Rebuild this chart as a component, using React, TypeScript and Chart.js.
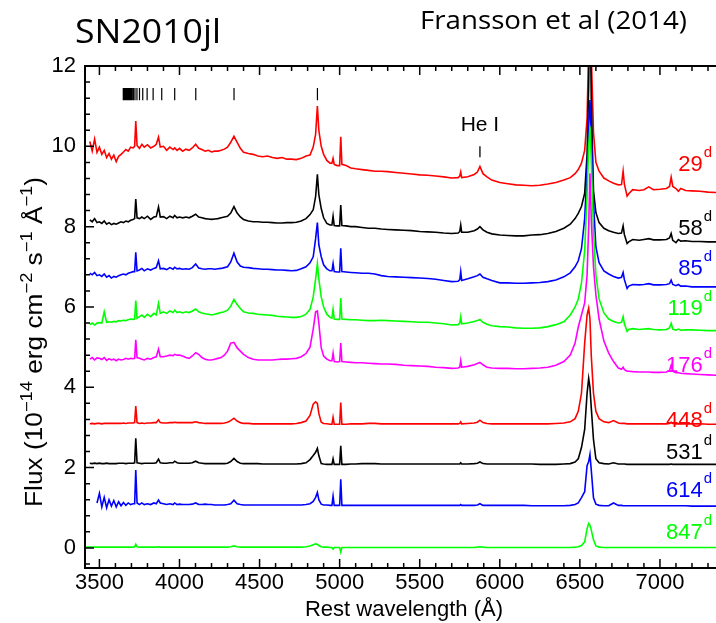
import React, { useEffect, useRef } from 'react';
import { Chart, registerables } from 'chart.js';

Chart.register(...registerables);

// ---------- data ----------
const WAVE = [
  3410, 3440, 3455, 3470, 3485, 3500, 3515, 3530, 3545, 3560,
  3575, 3590, 3605, 3620, 3635, 3650, 3665, 3680, 3695, 3710,
  3720, 3727, 3735, 3750, 3765, 3780, 3800, 3820, 3840, 3855,
  3869, 3880, 3900, 3920, 3940, 3960, 3970, 3985, 4000, 4020,
  4040, 4060, 4080, 4101, 4120, 4140, 4160, 4180, 4200, 4220,
  4240, 4260, 4280, 4300, 4320, 4340, 4360, 4380, 4400, 4430,
  4460, 4490, 4520, 4550, 4580, 4610, 4640, 4670, 4700, 4730,
  4760, 4790, 4815, 4835, 4850, 4861, 4870, 4885, 4900, 4920,
  4940, 4952, 4959, 4966, 4985, 5000, 5007, 5014, 5040, 5070,
  5100, 5140, 5180, 5220, 5260, 5300, 5350, 5400, 5450, 5500,
  5550, 5600, 5650, 5700, 5740, 5750, 5756, 5762, 5800, 5840,
  5860, 5876, 5895, 5920, 5950, 6000, 6050, 6100, 6150, 6200,
  6250, 6300, 6350, 6400, 6440, 6470, 6490, 6510, 6530, 6545,
  6555, 6563, 6571, 6585, 6600, 6620, 6650, 6680, 6710, 6740,
  6760, 6770, 6778, 6795, 6805, 6830, 6870, 6900, 6930, 6960,
  7000, 7040, 7060, 7070, 7080, 7100, 7115, 7130, 7160, 7200,
  7250, 7300, 7350,
];

const FLUX_29 = [
  null, 10.12, 9.88, 10.18, 9.85, 9.98, 9.80, 9.90, 9.72, 9.82,
  9.68, 9.78, 9.62, 9.75, 9.80, 9.86, 9.92, 9.88, 9.98, 9.96,
  10.0, 10.63, 10.02, 9.95, 10.05, 9.98, 10.04, 9.96, 10.0, 10.05,
  10.23, 9.98, 10.0, 9.9, 9.98, 9.92, 9.96, 9.9, 9.95, 9.88,
  9.93, 9.90, 9.96, 10.05, 9.95, 9.92, 9.88, 9.90, 9.86, 9.88,
  9.88, 9.90, 9.93, 9.98, 10.1, 10.25, 10.1, 9.95, 9.85, 9.82,
  9.80, 9.76, 9.74, 9.76, 9.72, 9.70, 9.72, 9.68, 9.68, 9.67,
  9.70, 9.76, 9.78, 9.98, 10.3, 11.0, 10.4, 10.0, 9.8, 9.65,
  9.58, 9.58, 9.70, 9.55, 9.52, 9.52, 10.24, 9.55, 9.52, 9.46,
  9.44, 9.42, 9.40, 9.38, 9.38, 9.37, 9.35, 9.33, 9.31, 9.29,
  9.28, 9.26, 9.24, 9.21, 9.22, 9.26, 9.36, 9.22, 9.24, 9.30,
  9.36, 9.50, 9.32, 9.24, 9.16, 9.10, 9.07, 9.04, 9.03, 9.02,
  9.03, 9.06, 9.10, 9.16, 9.22, 9.32, 9.42, 9.58, 9.90, 10.7,
  12.5, 14.5, 12.3, 10.35, 9.6, 9.38, 9.21, 9.14, 9.08, 9.04,
  9.05, 9.38, 9.05, 8.76, 8.82, 8.92, 8.90, 8.92, 8.99, 8.92,
  8.93, 8.95, 9.0, 9.23, 9.0, 8.95, 8.88, 8.95, 8.90, 8.89,
  8.88, 8.86, 8.85,
];

const FLUX_58 = [
  null, 8.17, 8.12, 8.20, 8.10, 8.12, 8.08, 8.14, 8.06, 8.10,
  8.05, 8.08, 8.06, 8.09, 8.12, 8.10, 8.14, 8.12, 8.16, 8.18,
  8.2, 8.69, 8.22, 8.2, 8.24, 8.2, 8.26, 8.18, 8.24, 8.25,
  8.49, 8.24, 8.25, 8.2, 8.26, 8.22, 8.28, 8.22, 8.24, 8.22,
  8.24, 8.22, 8.26, 8.31, 8.24, 8.22, 8.2, 8.19, 8.18, 8.19,
  8.2, 8.22, 8.24, 8.26, 8.34, 8.5, 8.34, 8.24, 8.18, 8.14,
  8.12, 8.12, 8.11, 8.11, 8.1, 8.09, 8.09, 8.1, 8.1, 8.11,
  8.14, 8.2, 8.3, 8.42, 8.75, 9.3, 8.8, 8.45, 8.22, 8.08,
  8.04, 8.04, 8.26, 8.03, 8.02, 8.02, 8.54, 8.03, 8.02, 8.0,
  8.0, 7.98, 7.96, 7.96, 7.94, 7.93, 7.92, 7.91, 7.9, 7.88,
  7.87, 7.86, 7.84, 7.83, 7.84, 7.88, 8.04, 7.86, 7.86, 7.9,
  7.94, 8.0, 7.92, 7.86, 7.82, 7.79, 7.78, 7.77, 7.77, 7.79,
  7.8, 7.83, 7.88, 7.96, 8.06, 8.2, 8.33, 8.5, 8.83, 9.8,
  11.5, 14.0, 11.2, 8.9, 8.35, 8.1, 7.96, 7.9, 7.86, 7.83,
  7.84, 8.02, 7.8, 7.58, 7.62, 7.68, 7.66, 7.68, 7.7, 7.67,
  7.67, 7.68, 7.72, 7.83, 7.66, 7.6, 7.68, 7.64, 7.65, 7.63,
  7.63, 7.62, 7.62,
];

const FLUX_85 = [
  null, 6.84, 6.80, 6.86, 6.78, 6.80, 6.76, 6.82, 6.74, 6.78,
  6.72, 6.76, 6.74, 6.78, 6.80, 6.82, 6.80, 6.84, 6.86, 6.88,
  6.88, 7.36, 6.90, 6.92, 6.96, 6.90, 6.95, 6.92, 6.96, 6.98,
  7.15, 6.95, 6.96, 6.93, 6.98, 6.94, 6.99, 6.95, 6.96, 6.94,
  6.95, 6.94, 6.98, 7.07, 6.97, 6.95, 6.94, 6.95, 6.95, 6.94,
  6.95, 6.96, 6.98, 7.0, 7.12, 7.34, 7.12, 7.02, 6.99, 6.98,
  6.96, 6.95, 6.94, 6.94, 6.93, 6.92, 6.92, 6.91, 6.9, 6.91,
  6.95, 7.0, 7.1, 7.25, 7.7, 8.1, 7.55, 7.25, 7.05, 6.95,
  6.9, 6.9, 7.08, 6.88, 6.87, 6.87, 7.46, 6.88, 6.87, 6.86,
  6.85, 6.84, 6.84, 6.82, 6.78, 6.76, 6.75, 6.74, 6.73, 6.72,
  6.71, 6.69, 6.66, 6.63, 6.64, 6.68, 6.88, 6.66, 6.7, 6.75,
  6.78, 6.82, 6.74, 6.7, 6.66, 6.6, 6.6, 6.59, 6.59, 6.6,
  6.61, 6.63, 6.67, 6.75, 6.85, 7.0, 7.15, 7.45, 8.2, 9.4,
  10.5, 11.15, 10.3, 8.6, 7.5, 7.1, 6.9, 6.82, 6.76, 6.72,
  6.74, 6.86, 6.68, 6.46, 6.52, 6.56, 6.55, 6.56, 6.58, 6.55,
  6.55, 6.56, 6.58, 6.67, 6.56, 6.53, 6.56, 6.52, 6.52, 6.5,
  6.5, 6.5, 6.5,
];

const FLUX_119 = [
  null, 5.56, 5.6, 5.55, 5.6, 5.61, 5.6, 5.88, 5.62, 5.63,
  5.62, 5.64, 5.63, 5.66, 5.65, 5.67, 5.66, 5.68, 5.7, 5.69,
  5.7, 6.16, 5.72, 5.76, 5.8, 5.74, 5.82, 5.76, 5.84, 5.8,
  6.09, 5.84, 5.88, 5.84, 5.9, 5.86, 5.92, 5.86, 5.88, 5.85,
  5.88, 5.86, 5.9, 5.95, 5.88, 5.85, 5.83, 5.82, 5.8, 5.82,
  5.84, 5.86, 5.88, 5.92, 6.02, 6.19, 6.06, 5.96, 5.88, 5.85,
  5.84, 5.82, 5.81, 5.8, 5.79, 5.77, 5.76, 5.75, 5.74, 5.74,
  5.76, 5.82, 5.94, 6.25, 6.7, 7.08, 6.7, 6.25, 6.0, 5.82,
  5.74, 5.72, 5.94, 5.7, 5.69, 5.69, 6.22, 5.7, 5.69, 5.68,
  5.68, 5.67, 5.66, 5.66, 5.67, 5.66, 5.65, 5.64, 5.63, 5.62,
  5.62, 5.6, 5.58, 5.55, 5.56, 5.6, 5.76, 5.58, 5.6, 5.64,
  5.66, 5.69, 5.62, 5.57, 5.53, 5.51, 5.5, 5.48, 5.47, 5.47,
  5.48, 5.51, 5.56, 5.63, 5.8, 6.0, 6.2, 6.6, 7.4, 8.8,
  10.0, 10.49, 9.7, 7.9, 6.8, 6.2, 5.85, 5.7, 5.64, 5.6,
  5.62, 5.76, 5.58, 5.39, 5.44, 5.46, 5.44, 5.45, 5.46, 5.44,
  5.43, 5.44, 5.48, 5.59, 5.45, 5.42, 5.45, 5.42, 5.43, 5.43,
  5.42, 5.41, 5.41,
];

const FLUX_176 = [
  null, 4.70, 4.74, 4.68, 4.73, 4.72, 4.69, 4.74, 4.67, 4.71,
  4.68, 4.7, 4.66, 4.7, 4.68, 4.69, 4.72, 4.7, 4.72, 4.71,
  4.72, 5.18, 4.74, 4.72, 4.7, 4.68, 4.72, 4.7, 4.74, 4.76,
  4.95, 4.76, 4.76, 4.78, 4.8, 4.79, 4.82, 4.8, 4.8, 4.78,
  4.74, 4.72, 4.78, 4.86, 4.82, 4.74, 4.7, 4.68, 4.68, 4.7,
  4.72, 4.74, 4.8, 4.9, 5.1, 5.12, 4.98, 4.9, 4.82, 4.74,
  4.7, 4.68, 4.68, 4.68, 4.68, 4.69, 4.7, 4.7, 4.71, 4.72,
  4.76, 4.84, 5.0, 5.45, 5.88, 5.9, 5.6, 4.98, 4.78, 4.7,
  4.66, 4.66, 4.85, 4.64, 4.63, 4.64, 5.1, 4.64, 4.63, 4.62,
  4.61, 4.61, 4.6, 4.59, 4.58, 4.58, 4.57, 4.55, 4.54, 4.53,
  4.52, 4.5, 4.49, 4.47, 4.48, 4.5, 4.66, 4.5, 4.52, 4.56,
  4.59, 4.62, 4.56, 4.5, 4.48, 4.47, 4.47, 4.46, 4.46, 4.47,
  4.48, 4.5, 4.55, 4.64, 4.8, 5.1, 5.5, 5.8, 6.1, 6.8,
  8.0, 9.33, 8.2, 7.0, 6.3, 5.7, 5.15, 4.85, 4.64, 4.48,
  4.45, 4.5, 4.44, 4.4, 4.4, 4.39, 4.38, 4.38, 4.38, 4.37,
  4.37, 4.38, 4.42, 4.55, 4.4, 4.36, 4.36, 4.35, 4.34, 4.33,
  4.32, 4.31, 4.3,
];

const FLUX_448 = [
  null, 3.09, 3.1, 3.09, 3.1, 3.1, 3.09, 3.1, 3.1, 3.1,
  3.1, 3.1, 3.1, 3.1, 3.1, 3.11, 3.1, 3.11, 3.11, 3.11,
  3.12, 3.53, 3.12, 3.1, 3.11, 3.1, 3.11, 3.11, 3.12, 3.12,
  3.19, 3.12, 3.11, 3.11, 3.12, 3.12, 3.13, 3.12, 3.12, 3.12,
  3.12, 3.12, 3.12, 3.14, 3.12, 3.11, 3.1, 3.1, 3.1, 3.1,
  3.1, 3.1, 3.11, 3.13, 3.17, 3.23, 3.16, 3.12, 3.1, 3.1,
  3.09, 3.09, 3.09, 3.09, 3.09, 3.09, 3.09, 3.09, 3.09, 3.1,
  3.12, 3.16, 3.3, 3.58, 3.64, 3.6, 3.35, 3.13, 3.1, 3.09,
  3.08, 3.08, 3.25, 3.08, 3.08, 3.08, 3.62, 3.08, 3.08, 3.09,
  3.09, 3.09, 3.1, 3.1, 3.09, 3.09, 3.09, 3.09, 3.09, 3.09,
  3.09, 3.09, 3.09, 3.09, 3.09, 3.1, 3.14, 3.09, 3.1, 3.11,
  3.13, 3.18, 3.12, 3.1, 3.09, 3.09, 3.09, 3.09, 3.09, 3.09,
  3.09, 3.09, 3.1, 3.11, 3.14, 3.22, 3.4, 3.85, 5.1, 5.8,
  5.97, 5.7, 4.8, 3.85, 3.4, 3.22, 3.14, 3.12, 3.17, 3.11,
  3.1, 3.1, 3.1, 3.09, 3.09, 3.09, 3.09, 3.09, 3.09, 3.09,
  3.09, 3.09, 3.1, 3.13, 3.1, 3.09, 3.09, 3.09, 3.09, 3.09,
  3.09, 3.08, 3.08,
];

const FLUX_531 = [
  null, 2.11, 2.1, 2.11, 2.1, 2.11, 2.1, 2.1, 2.11, 2.1,
  2.1, 2.1, 2.1, 2.11, 2.11, 2.11, 2.1, 2.11, 2.11, 2.11,
  2.12, 2.73, 2.12, 2.11, 2.1, 2.11, 2.11, 2.11, 2.11, 2.12,
  2.21, 2.12, 2.11, 2.11, 2.12, 2.12, 2.16, 2.12, 2.11, 2.11,
  2.11, 2.11, 2.12, 2.16, 2.12, 2.11, 2.1, 2.1, 2.1, 2.1,
  2.1, 2.1, 2.1, 2.11, 2.15, 2.23, 2.15, 2.11, 2.1, 2.1,
  2.1, 2.1, 2.09, 2.09, 2.09, 2.09, 2.09, 2.09, 2.09, 2.09,
  2.1, 2.12, 2.2, 2.3, 2.38, 2.48, 2.3, 2.1, 2.09, 2.08,
  2.08, 2.08, 2.22, 2.08, 2.08, 2.08, 2.54, 2.08, 2.08, 2.09,
  2.09, 2.1, 2.1, 2.1, 2.09, 2.09, 2.09, 2.09, 2.09, 2.09,
  2.09, 2.09, 2.09, 2.09, 2.09, 2.09, 2.12, 2.09, 2.09, 2.1,
  2.11, 2.14, 2.1, 2.09, 2.09, 2.09, 2.09, 2.09, 2.09, 2.09,
  2.08, 2.08, 2.08, 2.09, 2.1, 2.14, 2.22, 2.5, 2.95, 3.85,
  4.22, 4.0, 3.5, 2.7, 2.22, 2.12, 2.1, 2.09, 2.12, 2.09,
  2.09, 2.09, 2.09, 2.08, 2.08, 2.08, 2.08, 2.08, 2.08, 2.08,
  2.08, 2.08, 2.08, 2.09, 2.08, 2.08, 2.08, 2.08, 2.08, 2.08,
  2.08, 2.08, 2.08,
];

const FLUX_614 = [
  null, null, null, null, 1.12, 1.36, 1.02, 1.26, 1.0, 1.2,
  1.04, 1.18, 1.02, 1.15, 1.05, 1.13, 1.06, 1.12, 1.08, 1.1,
  1.1, 1.94, 1.12, 1.08, 1.12, 1.08, 1.1, 1.08, 1.12, 1.1,
  1.19, 1.12, 1.1, 1.08, 1.1, 1.08, 1.12, 1.08, 1.09, 1.08,
  1.08, 1.08, 1.09, 1.12, 1.08, 1.08, 1.09, 1.08, 1.08, 1.07,
  1.07, 1.07, 1.07, 1.08, 1.1, 1.19, 1.1, 1.08, 1.07, 1.07,
  1.07, 1.07, 1.07, 1.07, 1.07, 1.07, 1.07, 1.07, 1.07, 1.07,
  1.07, 1.08, 1.1, 1.16, 1.26, 1.38, 1.2, 1.09, 1.07, 1.07,
  1.06, 1.06, 1.29, 1.06, 1.06, 1.06, 1.71, 1.06, 1.06, 1.06,
  1.06, 1.06, 1.06, 1.06, 1.06, 1.06, 1.06, 1.06, 1.06, 1.06,
  1.06, 1.06, 1.06, 1.06, 1.06, 1.06, 1.08, 1.06, 1.06, 1.06,
  1.07, 1.1, 1.06, 1.06, 1.06, 1.06, 1.06, 1.06, 1.06, 1.05,
  1.05, 1.05, 1.05, 1.05, 1.06, 1.08, 1.12, 1.25, 1.4, 2.05,
  2.15, 2.33, 1.95, 1.25, 1.09, 1.06, 1.05, 1.05, 1.12, 1.06,
  1.06, 1.05, 1.05, 1.05, 1.05, 1.05, 1.05, 1.05, 1.05, 1.05,
  1.05, 1.05, 1.05, 1.05, 1.05, 1.05, 1.05, 1.05, 1.05, 1.04,
  1.04, 1.04, 1.04,
];

const FLUX_847 = [
  0.02, 0.02, 0.02, 0.02, 0.02, 0.02, 0.02, 0.02, 0.02, 0.02,
  0.02, 0.02, 0.02, 0.02, 0.02, 0.02, 0.02, 0.02, 0.02, 0.02,
  0.03, 0.09, 0.03, 0.02, 0.02, 0.02, 0.02, 0.02, 0.02, 0.02,
  0.03, 0.02, 0.02, 0.02, 0.02, 0.02, 0.02, 0.02, 0.02, 0.02,
  0.02, 0.02, 0.02, 0.02, 0.02, 0.02, 0.02, 0.02, 0.02, 0.02,
  0.02, 0.02, 0.02, 0.02, 0.03, 0.05, 0.03, 0.02, 0.02, 0.02,
  0.02, 0.02, 0.02, 0.02, 0.02, 0.02, 0.02, 0.02, 0.02, 0.02,
  0.02, 0.03, 0.05, 0.08, 0.1, 0.09, 0.06, 0.03, 0.02, 0.02,
  0.01, 0.01, -0.03, 0.01, 0.01, 0.01, -0.1, 0.01, 0.01, 0.01,
  0.01, 0.01, 0.01, 0.01, 0.01, 0.01, 0.01, 0.01, 0.01, 0.01,
  0.01, 0.01, 0.01, 0.01, 0.01, 0.01, 0.01, 0.01, 0.01, 0.01,
  0.02, 0.03, 0.02, 0.01, 0.01, 0.01, 0.01, 0.01, 0.01, 0.01,
  0.01, 0.01, 0.01, 0.01, 0.01, 0.02, 0.03, 0.06, 0.15, 0.48,
  0.61, 0.56, 0.45, 0.2, 0.05, 0.02, 0.01, 0.01, 0.01, 0.01,
  0.01, 0.01, 0.01, 0.01, 0.01, 0.01, 0.01, 0.01, 0.01, 0.01,
  0.01, 0.01, 0.01, 0.01, 0.01, 0.01, 0.01, 0.01, 0.01, 0.01,
  0.01, 0.01, 0.01,
];

const EPOCHS = ['29', '58', '85', '119', '176', '448', '531', '614', '847'];
const EPOCH_LABEL_Y = [9.55, 7.97, 6.97, 5.97, 4.56, 3.19, 2.39, 1.44, 0.4];
const SERIES = [FLUX_29, FLUX_58, FLUX_85, FLUX_119, FLUX_176, FLUX_448, FLUX_531, FLUX_614, FLUX_847];
const COLORS = ['#ff0000', '#000000', '#0000ff', '#00ff00', '#ff00ff', '#ff0000', '#000000', '#0000ff', '#00ff00'];

const X_TICKS = [3500, 4000, 4500, 5000, 5500, 6000, 6500, 7000];
const Y_TICKS = [0, 2, 4, 6, 8, 10, 12];

// Balmer line markers (Å)
const BALMER = [
  4861.3, 4340.5, 4101.7, 3970.1, 3889.1, 3835.4, 3797.9, 3770.6, 3750.2, 3734.4,
  3721.9, 3712.0, 3703.9, 3697.2, 3691.6, 3686.8, 3682.8, 3679.4, 3676.4, 3673.8,
  3671.5, 3669.5, 3667.7, 3666.1, 3664.7, 3663.4, 3662.3, 3661.2, 3660.3, 3659.4,
  3658.6, 3657.9, 3657.3, 3656.7, 3656.1, 3655.6, 3655.1, 3654.2, 3653.0, 3652.0,
  3651.0, 3650.0, 3649.0,
];
const HEI_WAVE = 5876;

const FONT = '"Liberation Sans", Arial, Helvetica, sans-serif';
const TITLE_FONT = '"Open Sans", "Noto Sans", sans-serif';

const X_MIN = 3410;
const X_MAX = 7350;
const Y_MIN = -0.5;
const Y_MAX = 12;

const decorPlugin = {
  id: 'decor',
  beforeDraw(chart: any) {
    const { ctx, width, height } = chart;
    ctx.save();
    ctx.fillStyle = '#ffffff';
    ctx.fillRect(0, 0, width, height);
    ctx.restore();
  },
  afterDatasetsDraw(chart: any) {
    const { ctx, chartArea: a } = chart;
    const xs = chart.scales.x;
    const ys = chart.scales.y;
    ctx.save();
    ctx.strokeStyle = '#000';
    ctx.fillStyle = '#000';

    // frame
    ctx.lineWidth = 2;
    ctx.beginPath();
    ctx.moveTo(a.left, a.top - 1);
    ctx.lineTo(a.left, a.bottom + 1);
    ctx.moveTo(a.left - 1, a.bottom);
    ctx.lineTo(a.right, a.bottom);
    ctx.moveTo(a.left - 1, a.top);
    ctx.lineTo(a.right, a.top);
    ctx.stroke();

    // x ticks (major every 500, minor every 100)
    ctx.lineWidth = 1.5;
    ctx.beginPath();
    for (let v = 3500; v <= 7300; v += 100) {
      const px = xs.getPixelForValue(v);
      const len = v % 500 === 0 ? 9 : 5;
      ctx.moveTo(px, a.bottom);
      ctx.lineTo(px, a.bottom - len);
      ctx.moveTo(px, a.top);
      ctx.lineTo(px, a.top + len);
    }
    // y ticks (major every 2, minor every 0.4)
    for (let k = -1; k <= 30; k++) {
      const v = Math.round(k * 4) / 10;
      const py = ys.getPixelForValue(v);
      const major = Math.abs(v / 2 - Math.round(v / 2)) < 1e-6;
      const len = major ? 9 : 5;
      ctx.moveTo(a.left, py);
      ctx.lineTo(a.left + len, py);
    }
    ctx.stroke();

    // Balmer markers
    ctx.lineWidth = 1.2;
    ctx.beginPath();
    const mTop = ys.getPixelForValue(11.45);
    const mBot = ys.getPixelForValue(11.15);
    BALMER.forEach((w) => {
      const px = xs.getPixelForValue(w);
      ctx.moveTo(px, mTop);
      ctx.lineTo(px, mBot);
    });
    ctx.stroke();

    // He I
    const hx = xs.getPixelForValue(HEI_WAVE);
    ctx.lineWidth = 1.3;
    ctx.beginPath();
    ctx.moveTo(hx, ys.getPixelForValue(10.0));
    ctx.lineTo(hx, ys.getPixelForValue(9.73));
    ctx.stroke();
    ctx.font = `21px ${FONT}`;
    ctx.textAlign = 'center';
    ctx.textBaseline = 'middle';
    ctx.fillText('He I', hx, ys.getPixelForValue(10.53));

    // epoch labels
    EPOCHS.forEach((lab, i) => {
      const py = ys.getPixelForValue(EPOCH_LABEL_Y[i]);
      ctx.fillStyle = COLORS[i];
      ctx.font = `15px ${FONT}`;
      const wD = ctx.measureText('d').width;
      ctx.font = `22px ${FONT}`;
      const wN = ctx.measureText(lab).width;
      const right = 712;
      ctx.textAlign = 'left';
      ctx.textBaseline = 'middle';
      ctx.fillText(lab, right - wD - 1 - wN, py + 1);
      ctx.font = `15px ${FONT}`;
      ctx.textBaseline = 'alphabetic';
      ctx.fillText('d', right - wD, py - 7);
    });

    // axis titles
    ctx.fillStyle = '#000';
    ctx.font = `22px ${FONT}`;
    ctx.textAlign = 'center';
    ctx.textBaseline = 'alphabetic';
    ctx.fillText('Rest wavelength (Å)', 404, 616);

    const parts: [string, boolean][] = [
      ['Flux (10', false], ['−14', true], [' erg cm', false], ['−2', true],
      [' s', false], ['−1', true], [' Å', false], ['−1', true], [')', false],
    ];
    const mainF = `23px ${FONT}`;
    const supF = `16px ${FONT}`;
    ctx.save();
    ctx.translate(42, 342);
    ctx.rotate(-Math.PI / 2);
    let total = 0;
    const widths = parts.map(([t, sup]) => {
      ctx.font = sup ? supF : mainF;
      const w = ctx.measureText(t).width;
      total += w;
      return w;
    });
    const target = 330;
    ctx.scale(target / total, 1);
    ctx.textAlign = 'left';
    let cx = -total / 2;
    parts.forEach(([t, sup], i) => {
      ctx.font = sup ? supF : mainF;
      ctx.fillText(t, cx, sup ? -10 : 0);
      cx += widths[i];
    });
    ctx.restore();

    // titles
    const drawFit = (text: string, font: string, x: number, y: number, targetW: number) => {
      ctx.save();
      ctx.font = font;
      const w = ctx.measureText(text).width;
      ctx.translate(x, y);
      ctx.scale(targetW / w, 1);
      ctx.textAlign = 'left';
      ctx.textBaseline = 'alphabetic';
      ctx.fillText(text, 0, 0);
      ctx.restore();
    };
    ctx.fillStyle = '#000';
    drawFit('SN2010jl', `32px ${TITLE_FONT}`, 75, 43, 146);
    drawFit('Fransson et al (2014)', `25px ${TITLE_FONT}`, 420, 29, 267);

    ctx.restore();
  },
};

export default function App() {
  const ref = useRef<HTMLCanvasElement | null>(null);

  useEffect(() => {
    document.body.style.margin = '0';
    const canvas = ref.current;
    if (!canvas) return;
    const order = [8, 7, 6, 5, 4, 3, 2, 1, 0];
    const datasets = order.map((i) => ({
      label: EPOCHS[i],
      data: WAVE.map((w, j) => ({ x: w, y: SERIES[i][j] })),
      borderColor: COLORS[i],
      borderWidth: 1.6,
      pointRadius: 0,
      tension: 0,
      fill: false,
      spanGaps: false,
    }));

    const tickFont = { family: FONT, size: 22 };
    const chart = new Chart(canvas, {
      type: 'line',
      data: { datasets },
      plugins: [decorPlugin],
      options: {
        responsive: false,
        animation: false,
        devicePixelRatio: 1,
        layout: { padding: { top: 66, right: 0, left: 0, bottom: 0 } },
        plugins: {
          legend: { display: false },
          tooltip: { enabled: false },
          title: { display: false },
        },
        scales: {
          x: {
            type: 'linear',
            min: X_MIN,
            max: X_MAX,
            afterBuildTicks: (s: any) => {
              s.ticks = X_TICKS.map((v) => ({ value: v }));
            },
            afterFit: (s: any) => {
              s.height = 55;
            },
            grid: { display: false, drawTicks: false },
            border: { display: false },
            ticks: {
              autoSkip: false,
              maxRotation: 0,
              padding: 2,
              color: '#000',
              font: tickFont,
              callback: (v: any) => String(v),
            },
          },
          y: {
            type: 'linear',
            min: Y_MIN,
            max: Y_MAX,
            afterBuildTicks: (s: any) => {
              s.ticks = Y_TICKS.map((v) => ({ value: v }));
            },
            afterFit: (s: any) => {
              s.width = 85;
            },
            grid: { display: false, drawTicks: false },
            border: { display: false },
            ticks: {
              autoSkip: false,
              padding: 9,
              color: '#000',
              font: tickFont,
              callback: (v: any) => String(v),
            },
          },
        },
      } as any,
    });
    return () => chart.destroy();
  }, []);

  return (
    <canvas
      ref={ref}
      width={716}
      height={623}
      style={{ display: 'block', width: 716, height: 623 }}
    />
  );
}
